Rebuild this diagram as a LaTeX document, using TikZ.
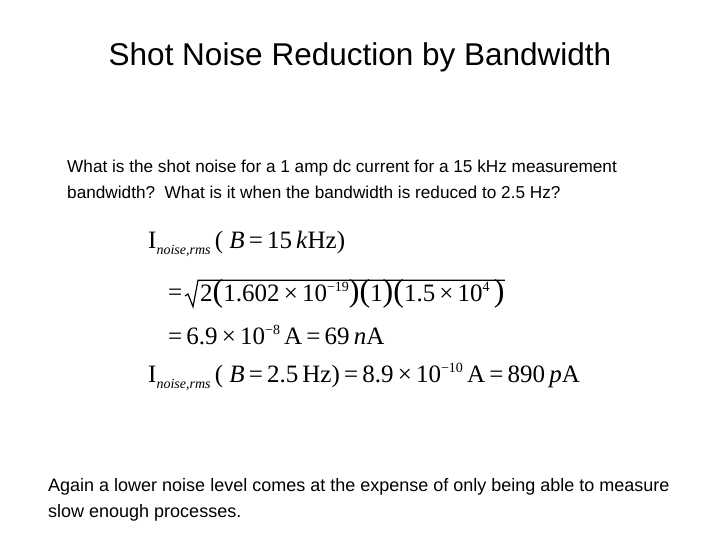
\documentclass[tikz,border=0pt]{standalone}
\usepackage{fontspec}
\setmainfont{Liberation Sans}
\newfontfamily\eqf{Liberation Serif}
\newcommand{\bigp}[1]{\hbox{\eqf\fontsize{32}{32}\selectfont #1}}
\newcommand{\sub}[1]{\raisebox{-6pt}{\fontsize{14}{14}\selectfont\itshape #1}}
\newcommand{\supx}[1]{\raisebox{10pt}{\fontsize{14}{14}\selectfont #1}}
\begin{document}
\begin{tikzpicture}[x=1pt,y=-1pt,
  title/.style={anchor=center,font=\fontsize{31.5}{34}\selectfont},
  body/.style={anchor=west,font=\fontsize{17.2}{26}\selectfont,align=left},
  eq/.style={anchor=west,font=\eqf\fontsize{25}{28}\selectfont,inner sep=0pt}]
\useasboundingbox (0,0) rectangle (720,540);
\node[title] (t) at (360,57) {Shot Noise Reduction by Bandwidth};
\node[body,anchor=north west,inner sep=0pt] (q) at (67,160) {What is the shot noise for a 1 amp dc current for a 15 kHz measurement\\bandwidth?\ \ What is it when the bandwidth is reduced to 2.5 Hz?};
\node[eq] (e1) at (148,244) {I\sub{noise,rms}\,( \textit{B}\,=\,15\,\textit{k}Hz)};
\node[eq] (e2) at (168,295) {=};
\node[eq] (r) at (200,294) {2\bigp{(}1.602\,×\,10\supx{−19}\bigp{)}\bigp{(}1\bigp{)}\bigp{(}1.5\,×\,10\supx{4}\,\bigp{)}};
\draw[line width=1.2pt,line join=miter] ([xshift=-15pt,yshift=-2pt]r.west) -- ++(3,-2) -- ([xshift=-7pt,yshift=2pt]r.south west) -- ([xshift=-2pt,yshift=-1pt]r.north west) -- ([yshift=-1pt]r.north east);
\node[eq] (e3) at (168,335) {=\,6.9\,×\,10\supx{−8}\,A\,=\,69\,\textit{n}A};
\node[eq] (e4) at (148,377) {I\sub{noise,rms}\,( \textit{B}\,=\,2.5\,Hz)\,=\,8.9\,×\,10\supx{−10}\,A\,=\,890\,\textit{p}A};
\node[body,anchor=north west,inner sep=0pt,font=\fontsize{18}{26}\selectfont] (b) at (48,478) {Again a lower noise level comes at the expense of only being able to measure\\slow enough processes.};
\end{tikzpicture}
\end{document}
